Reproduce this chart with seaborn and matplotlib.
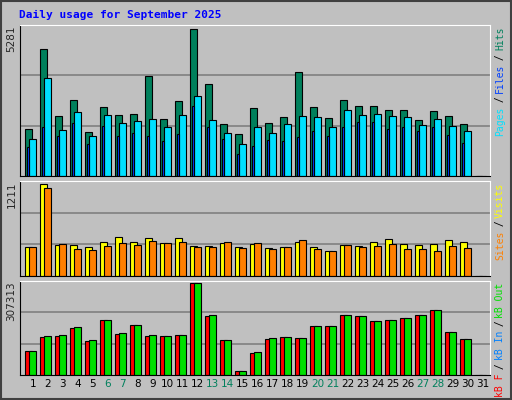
import matplotlib
matplotlib.use("Agg")
import matplotlib.pyplot as plt
import seaborn as sns
import numpy as np

days = np.arange(1, 32)
day_labels = [str(d) for d in days]
weekend = [6, 7, 13, 14, 20, 21, 27, 28]

hits = [1688, 4562, 2143, 2730, 1581, 2479, 2191, 2227, 3593, 2048, 2694, 5281, 3305, 1868, 1509,
        2443, 1904, 2120, 3736, 2479, 2084, 2730, 2515, 2515, 2371, 2371, 2012, 2335, 2156, 1868, 0]
files = [1329, 3521, 1653, 2299, 1437, 2191, 1904, 1976, 2048, 1760, 2191, 2874, 2012, 1545, 1150,
         1760, 1545, 1868, 2156, 2120, 1760, 2371, 2191, 2227, 2156, 2120, 1832, 2048, 1796, 1617, 0]
pages = [1042, 1760, 1437, 1904, 1150, 1796, 1437, 1545, 1437, 1257, 1509, 2515, 1760, 1329, 790,
         1078, 1293, 1257, 1401, 1617, 1437, 1760, 1940, 1940, 1688, 1760, 1617, 1760, 1473, 1186, 0]
visits = [382, 1211, 408, 408, 382, 448, 513, 448, 500, 434, 500, 395, 395, 434, 382,
          421, 369, 382, 448, 382, 329, 408, 395, 448, 487, 421, 408, 421, 474, 448, 0]
sites = [382, 1158, 421, 355, 342, 395, 434, 408, 461, 434, 448, 382, 382, 448, 369,
         434, 355, 382, 474, 355, 329, 408, 382, 395, 421, 355, 355, 329, 395, 369, 0]
kb_in = [80755, 131227, 134592, 161510, 117768, 185064, 141322, 168240, 134592, 131227, 134592,
         307313, 201888, 117768, 13459, 77390, 124498, 127862, 124498, 164875, 164875, 201888,
         198523, 181699, 185064, 191794, 201888, 218712, 144686, 121133, 0]
kb_f = [80755, 127862, 131227, 158146, 114403, 185064, 137957, 168240, 131227, 131227, 134592,
        307313, 198523, 117768, 13459, 74025, 121133, 127862, 124498, 164875, 164875, 201888,
        198523, 181699, 185064, 191794, 201888, 218712, 144686, 121133, 0]

sns.set_style("white")
plt.rcParams['font.family'] = ['DejaVu Sans Mono']

BG = "#C0C0C0"
fig = plt.figure(figsize=(5.12, 4.0), dpi=100, facecolor=BG)
fig.patches.append(plt.Rectangle((0.002, 0.003), 0.996, 0.994, transform=fig.transFigure,
                                 fill=False, edgecolor="#404040", lw=1.5))
fig.text(0.037, 0.962, "Daily usage for September 2025", color="#0000FF",
         fontsize=8, fontweight="bold", va="center")

left, width = 20 / 512, 470 / 512
ax1 = fig.add_axes([left, 0.56, width, 0.3775])
ax2 = fig.add_axes([left, 0.31, width, 0.2375])
ax3 = fig.add_axes([left, 0.0625, width, 0.235])


def style(ax, top, label):
    ax.set_facecolor(BG)
    ax.set_xlim(0.153, 31.49)
    ax.set_ylim(0, top * 151 / 147)
    for f in (1 / 3, 2 / 3):
        ax.axhline(top * 151 / 147 * f, color="#808080", lw=1.2, zorder=0)
    ax.set_yticks([])
    ax.set_xticks([])
    for s in ax.spines.values():
        s.set_color("black")
    ax.spines["top"].set_color("white")
    ax.spines["right"].set_color("white")
    ax.text(-0.018, 1.0, label, transform=ax.transAxes, rotation=90,
            ha="center", va="top", fontsize=7.5, family="DejaVu Sans")


def bars(ax, vals, off, w, color):
    ax.bar(days + off, vals, width=w, align="edge", color=color,
           edgecolor="black", linewidth=0.8, zorder=2)


bars(ax1, hits, -0.51, 0.49, "#00805C")
bars(ax1, files, -0.23, 0.47, "#00E0FF")
bars(ax1, pages, -0.38, 0.15, "#0040FF")
style(ax1, max(hits), str(max(hits)))

bars(ax2, visits, -0.51, 0.47, "#FFFF00")
bars(ax2, sites, -0.23, 0.47, "#FF8000")
style(ax2, max(visits), str(max(visits)))

bars(ax3, kb_f, -0.51, 0.47, "#FF0000")
bars(ax3, kb_in, -0.27, 0.47, "#00E000")
style(ax3, max(kb_in), str(max(kb_in)))

for d, lab in zip(days, day_labels):
    ax3.text(d, -0.04, lab, transform=ax3.get_xaxis_transform(), ha="center", va="top",
             fontsize=7.5, family="DejaVu Sans",
             color="#00805C" if d in weekend else "black")

# right-side legends, stacked top-down
fs = 7
ch = 5.3 / 400  # height of one rotated character, figure fraction
legends = [
    (0.56 + 0.3775, [("Hits", "#00805C"), (" / ", "black"), ("Files", "#0040FF"),
                     (" / ", "black"), ("Pages", "#00E0FF")]),
    (0.31 + 0.2375, [("Visits", "#FFFF00"), (" / ", "black"), ("Sites", "#FF8000")]),
    (0.0625 + 0.235, [("kB Out", "#00E000"), (" / ", "black"), ("kB In", "#0080FF"),
                      (" / ", "black"), ("kB F", "#FF0000")]),
]
for ytop, parts in legends:
    y = ytop - 0.005
    for txt, col in parts:
        fig.text(0.977, y, txt, rotation=90, color=col, fontsize=fs,
                 ha="center", va="top")
        y -= len(txt) * ch

fig.savefig("out.png", dpi=100, facecolor=BG)
